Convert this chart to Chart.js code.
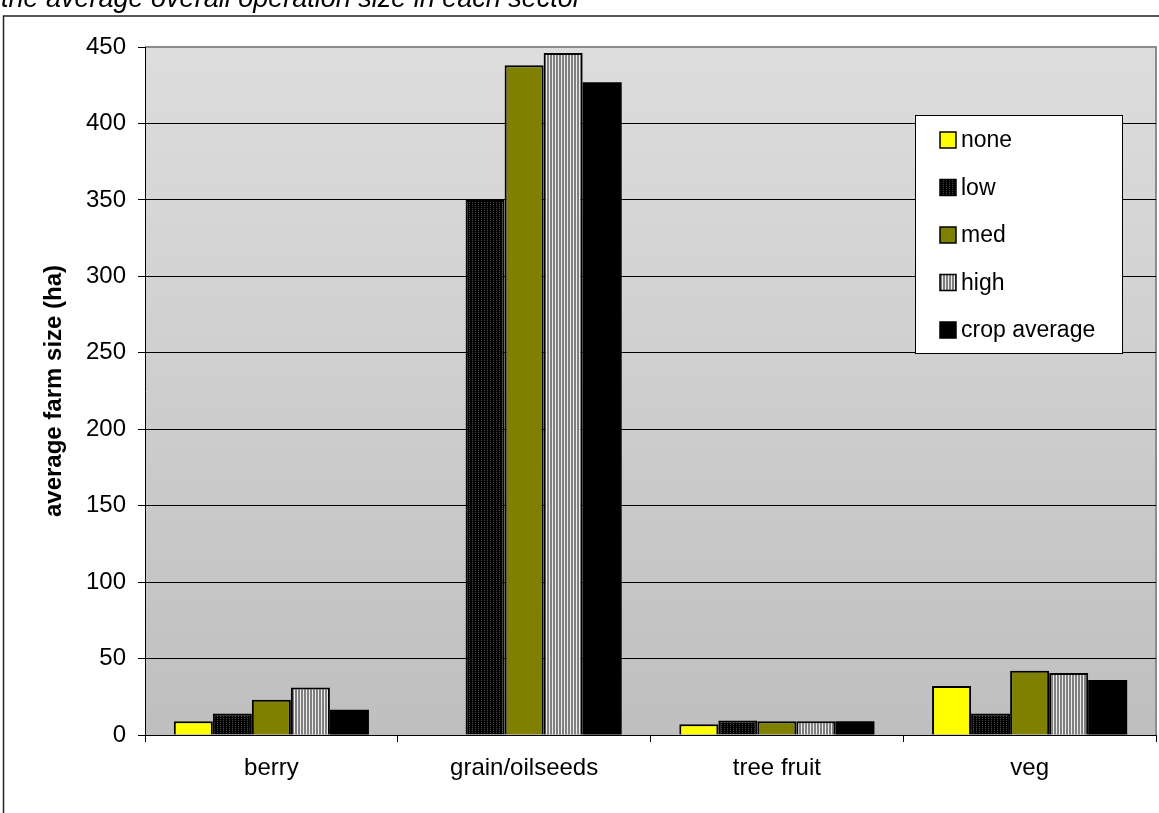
<!DOCTYPE html>
<html>
<head>
<meta charset="utf-8">
<script src="https://cdn.jsdelivr.net/npm/chart.js@4"></script>
<style>
    html, body { margin: 0; padding: 0; background: #fff; overflow: hidden; }
    #wrap { position: relative; width: 1159px; height: 813px; }
</style>
</head>
<body>
<div id="wrap"><canvas id="farmChart" width="1159" height="813"></canvas></div>
<script>
// Average farm size by sector and adoption level (ha)
const sectors = ['berry', 'grain/oilseeds', 'tree fruit', 'veg'];
const seriesNames = ['none', 'low', 'med', 'high', 'crop average'];
const noneSize = [9, 0, 7, 32];
const lowSize = [14, 350, 9.5, 14];
const medSize = [23, 438, 9, 42];
const highSize = [31, 446, 9, 40.5];
const cropAvgSize = [16.5, 427, 9, 36];
const yMax = 450;
const yStep = 50;

const FONT = '"Liberation Sans", Arial, sans-serif';

// Small tiled fills for the hatched series
function makePattern(w, h, base, dots, dotColor) {
    const c = document.createElement('canvas');
    c.width = w;
    c.height = h;
    const g = c.getContext('2d');
    g.fillStyle = base;
    g.fillRect(0, 0, w, h);
    g.fillStyle = dotColor;
    dots.forEach(p => g.fillRect(p[0], p[1], 1, 1));
    return g.createPattern(c, 'repeat');
}

const lowFill = makePattern(3, 2, '#000000', [[1, 0]], '#4a4a4a');
const highFill = makePattern(3, 1, '#808080', [[0, 0]], '#ececec');

const seriesValues = [noneSize, lowSize, medSize, highSize, cropAvgSize];
const seriesFills = ['#ffff00', lowFill, '#808000', highFill, '#000000'];

const datasets = seriesNames.map((name, i) => ({
    label: name,
    data: seriesValues[i],
    backgroundColor: seriesFills[i],
    borderColor: '#000000',
    borderWidth: i === 4 ? 0 : 2,
    barPercentage: 1.0,
    categoryPercentage: 0.772
}));

// Frame, caption and graded plot background
const plotBackground = {
    id: 'plotBackground',
    beforeDraw(chart) {
        const { ctx, chartArea: a } = chart;
        ctx.save();
        ctx.fillStyle = '#000';
        ctx.font = 'italic 27px ' + FONT;
        ctx.textBaseline = 'alphabetic';
        ctx.fillText('the average overall operation size in each sector', 1, 7);

        ctx.strokeStyle = '#222';
        ctx.lineWidth = 1.5;
        ctx.strokeRect(3.5, 16, 2000, 2000);

        const grad = ctx.createLinearGradient(0, a.top, 0, a.bottom);
        grad.addColorStop(0, '#dddddd');
        grad.addColorStop(1, '#bfbfbf');
        ctx.fillStyle = grad;
        ctx.fillRect(a.left, a.top, a.right - a.left, a.bottom - a.top);

        ctx.strokeStyle = '#8c8c8c';
        ctx.lineWidth = 2;
        ctx.beginPath();
        ctx.moveTo(a.left, a.top);
        ctx.lineTo(a.right, a.top);
        ctx.lineTo(a.right, a.bottom);
        ctx.stroke();
        ctx.restore();
    }
};

// Boxed legend inside the plot, upper right
const boxLegend = {
    id: 'boxLegend',
    afterDraw(chart) {
        const { ctx } = chart;
        const box = { x: 915.5, y: 115.5, w: 207, h: 238 };
        ctx.save();
        ctx.fillStyle = '#ffffff';
        ctx.fillRect(box.x, box.y, box.w, box.h);
        ctx.strokeStyle = '#000';
        ctx.lineWidth = 1;
        ctx.strokeRect(box.x, box.y, box.w, box.h);

        ctx.font = '23px ' + FONT;
        ctx.textBaseline = 'middle';
        chart.data.datasets.forEach((ds, i) => {
            const cy = 140 + i * 47.5;
            ctx.fillStyle = ds.backgroundColor;
            ctx.fillRect(940, cy - 8, 16, 16);
            ctx.strokeStyle = '#000';
            ctx.lineWidth = 1.5;
            ctx.strokeRect(940, cy - 8, 16, 16);
            ctx.fillStyle = '#000';
            ctx.fillText(ds.label, 961, cy + 1);
        });
        ctx.restore();
    }
};

new Chart(document.getElementById('farmChart'), {
    type: 'bar',
    data: { labels: sectors, datasets: datasets },
    options: {
        responsive: false,
        animation: false,
        devicePixelRatio: 1,
        layout: { padding: { top: 47, right: 3, left: 0, bottom: 0 } },
        plugins: {
            legend: { display: false },
            tooltip: { enabled: false }
        },
        scales: {
            x: {
                offset: true,
                grid: {
                    offset: true,
                    drawOnChartArea: false,
                    drawTicks: true,
                    tickLength: 7,
                    color: '#000'
                },
                border: { color: '#000', width: 1 },
                ticks: {
                    color: '#000',
                    padding: 12,
                    font: { family: FONT, size: 24 },
                    maxRotation: 0
                },
                afterFit(scale) { scale.height = 78; }
            },
            y: {
                min: 0,
                max: yMax,
                ticks: {
                    stepSize: yStep,
                    color: '#000',
                    padding: 12,
                    font: { family: FONT, size: 24 }
                },
                grid: {
                    color: ctx => ctx.tick && ctx.tick.value === yMax ? '#8c8c8c' : '#000',
                    tickColor: '#000',
                    tickLength: 7,
                    lineWidth: 1
                },
                border: { color: '#000', width: 1 },
                title: {
                    display: true,
                    text: 'average farm size (ha)',
                    color: '#000',
                    font: { family: FONT, size: 24, weight: 'bold' },
                    padding: { top: 40, bottom: 0 }
                },
                afterFit(scale) { scale.width = 145; }
            }
        }
    },
    plugins: [plotBackground, boxLegend]
});
</script>
</body>
</html>
